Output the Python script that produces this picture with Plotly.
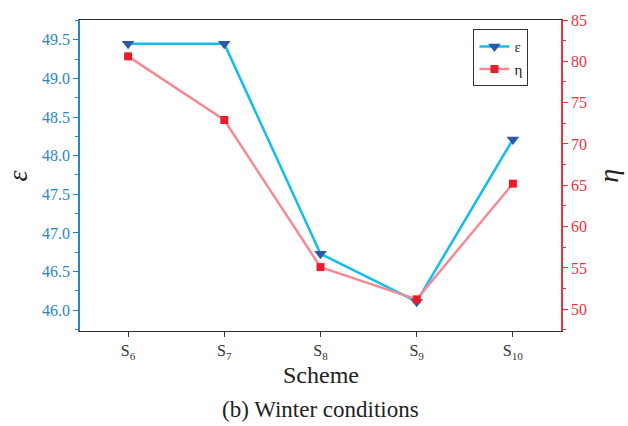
import plotly.graph_objects as go

categories = ["S6", "S7", "S8", "S9", "S10"]
tick_labels = ["S<sub>6</sub>", "S<sub>7</sub>", "S<sub>8</sub>", "S<sub>9</sub>", "S<sub>10</sub>"]
epsilon = [49.45, 49.45, 46.73, 46.11, 48.21]
eta = [80.6, 72.9, 55.1, 51.2, 65.2]

FONT = "Times New Roman"
BLUE_AX = "#2A86C0"
RED_AX = "#E8333C"

fig = go.Figure()
fig.add_trace(go.Scatter(
    x=categories, y=epsilon, name="ε", mode="lines+markers",
    line=dict(color="#14BDEF", width=2.5),
    marker=dict(symbol="triangle-down", size=11, color="#2C58A8"),
    yaxis="y",
))
fig.add_trace(go.Scatter(
    x=categories, y=eta, name="η", mode="lines+markers",
    line=dict(color="#F28B96", width=2.5),
    marker=dict(symbol="square", size=8, color="#EC1C2C"),
    yaxis="y2",
))

fig.update_layout(
    width=628, height=426,
    margin=dict(l=80, r=67, t=17, b=95),
    plot_bgcolor="white", paper_bgcolor="white",
    font=dict(family=FONT, size=14, color="#222"),
    showlegend=True,
    legend=dict(
        x=0.818, y=0.97, xanchor="left", yanchor="top",
        bordercolor="#333", borderwidth=1, bgcolor="white",
        font=dict(family=FONT, size=15, color="#222"),
        tracegroupgap=0, itemwidth=30,
    ),
    xaxis=dict(
        type="category", range=[-0.5, 4.5],
        tickmode="array", tickvals=categories, ticktext=tick_labels,
        showline=True, linecolor="#333", linewidth=1.2, mirror=True,
        ticks="outside", ticklen=5, tickcolor="#333",
        showgrid=False, zeroline=False,
        tickfont=dict(family=FONT, size=16, color="#333"),
    ),
    yaxis=dict(
        range=[45.73, 49.756], tickvals=[46.0, 46.5, 47.0, 47.5, 48.0, 48.5, 49.0, 49.5],
        tickformat=".1f",
        showline=True, linecolor=BLUE_AX, linewidth=1.5,
        ticks="outside", ticklen=5, tickcolor=BLUE_AX,
        minor=dict(ticks="outside", ticklen=3, dtick=0.25, tickcolor=BLUE_AX, showgrid=False),
        showgrid=False, zeroline=False,
        tickfont=dict(family=FONT, size=16, color=BLUE_AX),
    ),
    yaxis2=dict(
        overlaying="y", side="right",
        range=[47.37, 85.0], tickvals=[50, 55, 60, 65, 70, 75, 80, 85],
        showline=True, linecolor=RED_AX, linewidth=1.5,
        ticks="outside", ticklen=5, tickcolor=RED_AX,
        minor=dict(ticks="outside", ticklen=3, dtick=2.5, tickcolor=RED_AX, showgrid=False),
        showgrid=False, zeroline=False,
        tickfont=dict(family=FONT, size=16, color=RED_AX),
    ),
    annotations=[
        dict(text="<i>ε</i>", xref="paper", yref="paper", x=-0.129, y=0.5,
             xanchor="center", yanchor="middle", showarrow=False, textangle=-90,
             font=dict(family=FONT, size=28, color="#222")),
        dict(text="<i>η</i>", xref="paper", yref="paper", x=1.098, y=0.5,
             xanchor="center", yanchor="middle", showarrow=False, textangle=-90,
             font=dict(family=FONT, size=28, color="#222")),
        dict(text="Scheme", xref="paper", yref="paper", x=0.5, y=-0.143,
             xanchor="center", yanchor="middle", showarrow=False,
             font=dict(family=FONT, size=24, color="#222")),
        dict(text="(b) Winter conditions", xref="paper", yref="paper", x=0.5, y=-0.252,
             xanchor="center", yanchor="middle", showarrow=False,
             font=dict(family=FONT, size=23, color="#222")),
    ],
)

fig.write_html(
    "out.html",
    config={"displayModeBar": False},
    post_script="document.body.style.margin='0';document.body.style.overflow='hidden';",
)
